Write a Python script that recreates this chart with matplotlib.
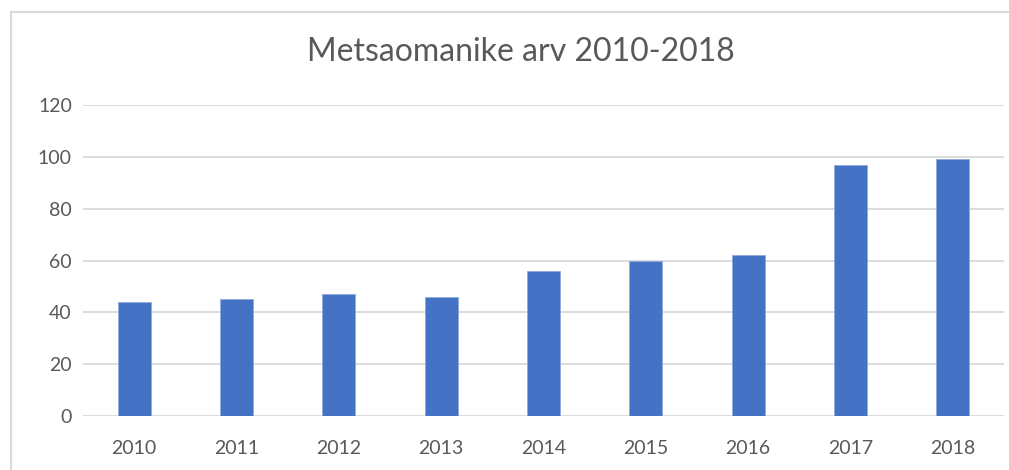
import matplotlib
matplotlib.use("Agg")
import matplotlib.pyplot as plt

years = ["2010", "2011", "2012", "2013", "2014", "2015", "2016", "2017", "2018"]
values = [44, 45, 47, 46, 56, 60, 62, 97, 99]
y_ticks = [0, 20, 40, 60, 80, 100, 120]
title = "Metsaomanike arv 2010-2018"

plt.rcParams['font.family'] = ['Lato', 'DejaVu Sans']

W, H = 1009, 470
fig = plt.figure(figsize=(W / 100, H / 100), dpi=100)

# chart border (top and left visible)
fig.add_artist(plt.Line2D([11 / W, 11 / W], [0, 1 - 12 / H], color="#d9d9d9", lw=1.5, transform=fig.transFigure))
fig.add_artist(plt.Line2D([11 / W, 1], [1 - 12 / H, 1 - 12 / H], color="#d9d9d9", lw=1.5, transform=fig.transFigure))

left, right, top, bottom = 83, 1004, 105, 416
ax = fig.add_axes([left / W, 1 - bottom / H, (right - left) / W, (bottom - top) / H])

x = range(len(years))
ax.bar(x, values, width=0.32, color="#4472C4", edgecolor="#8FAADC", linewidth=0.6, zorder=3)
ax.set_xlim(-0.5, len(years) - 0.5)
ax.set_ylim(0, 120)
ax.set_yticks(y_ticks)
ax.set_xticks(list(x))
ax.set_xticklabels(years)
ax.grid(axis="y", color="#d9d9d9", linewidth=1.3, zorder=0)
for s in ax.spines.values():
    s.set_visible(False)
ax.tick_params(axis="both", length=0, labelsize=14, colors="#595959")
ax.tick_params(axis="x", pad=17)
ax.tick_params(axis="y", pad=8)

fig.text(521 / W, 1 - 52 / H, title, ha="center", va="center",
         fontsize=23, color="#595959")

fig.savefig("out.png", dpi=100)
